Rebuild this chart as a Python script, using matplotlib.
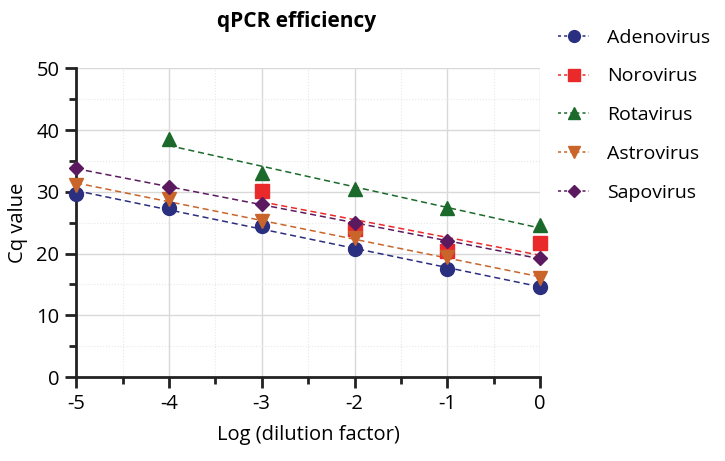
import numpy as np
import matplotlib
matplotlib.use("Agg")
import matplotlib.pyplot as plt
from matplotlib.ticker import MultipleLocator

plt.rcParams['font.family'] = ['Open Sans', 'DejaVu Sans']

log_dilution = [-5, -4, -3, -2, -1, 0]
adenovirus = [29.7, 27.4, 24.5, 20.7, 17.5, 14.6]
norovirus = [None, None, 30.1, 24.0, 20.4, 21.7]
rotavirus = [None, 38.5, 33.0, 30.5, 27.4, 24.6]
astrovirus = [31.1, 28.8, 25.2, 22.5, 19.4, 16.0]
sapovirus = [33.8, 30.7, 28.0, 25.0, 22.0, 19.2]

series = [
    ("Adenovirus", adenovirus, "#2b2f80", "o", 10),
    ("Norovirus", norovirus, "#ea2a2a", "s", 9.5),
    ("Rotavirus", rotavirus, "#1b6a2c", "^", 9.5),
    ("Astrovirus", astrovirus, "#c9652a", "v", 9.5),
    ("Sapovirus", sapovirus, "#5b1a5f", "D", 7),
]

fig = plt.figure(figsize=(7.25, 4.61), dpi=100)
ax = fig.add_axes([0.105, 0.182, 0.640, 0.670])

for name, vals, color, marker, ms in series:
    xs = np.array([x for x, v in zip(log_dilution, vals) if v is not None], float)
    ys = np.array([v for v in vals if v is not None], float)
    slope, icpt = np.polyfit(xs, ys, 1)
    fx = np.array([xs.min(), xs.max()])
    ax.plot(fx, slope * fx + icpt, color=color, lw=1.1, ls=(0, (4, 2.5)), zorder=3)
    ax.plot(xs, ys, ls='none', marker=marker, color=color, ms=ms, zorder=4, clip_on=False)
    ax.plot([], [], color=color, lw=1.1, ls=(0, (2, 2)), marker=marker, ms=ms * 0.85, label=name)

ax.set_xlim(-5, 0)
ax.set_ylim(0, 50)
ax.xaxis.set_major_locator(MultipleLocator(1))
ax.xaxis.set_minor_locator(MultipleLocator(0.5))
ax.yaxis.set_major_locator(MultipleLocator(10))
ax.yaxis.set_minor_locator(MultipleLocator(5))
ax.set_xticks(log_dilution)
ax.set_xticklabels(["-5", "-4", "-3", "-2", "-1", "0"])

ax.grid(which='major', color='#d9d9d9', lw=1.0)
ax.grid(which='minor', color='#e8e8e8', lw=0.8, ls=':')
ax.set_axisbelow(True)
for s in ['top', 'right']:
    ax.spines[s].set_visible(False)
for s in ['left', 'bottom']:
    ax.spines[s].set_linewidth(2.0)
    ax.spines[s].set_color('#222222')
ax.tick_params(which='major', direction='out', length=8, width=2.0, labelsize=14.5, color='#222222', pad=4)
ax.tick_params(which='minor', direction='out', length=5, width=2.0, color='#222222')

ax.set_xlabel("Log (dilution factor)", fontsize=14.5, labelpad=8)
ax.set_ylabel("Cq value", fontsize=14.5, labelpad=6)
ax.set_title("qPCR efficiency", fontsize=15, fontweight='bold', pad=30, x=0.475)

leg = fig.legend(loc='upper left', bbox_to_anchor=(0.746, 0.976), frameon=False,
                 fontsize=14, labelspacing=1.07, handlelength=1.6, handletextpad=0.9)

fig.savefig("out.png", dpi=100)
